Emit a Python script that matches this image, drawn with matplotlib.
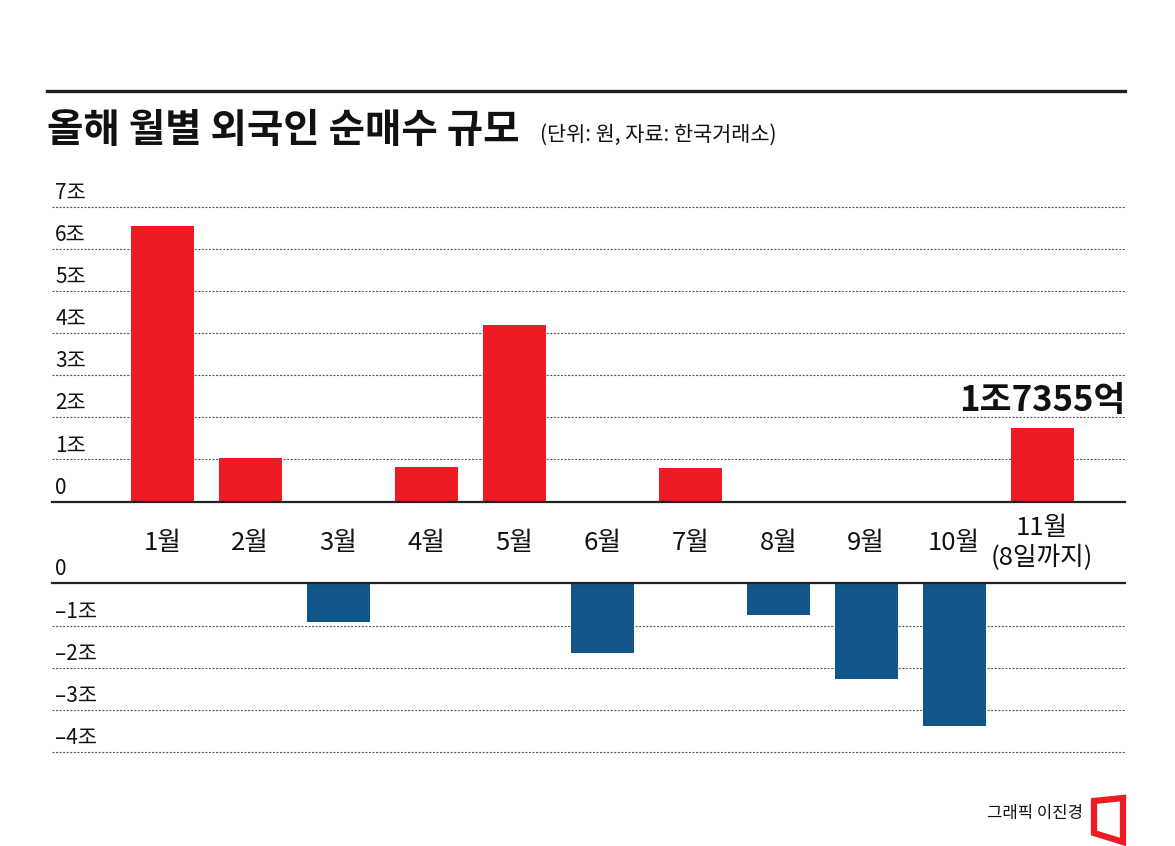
import numpy as np
import matplotlib.pyplot as plt
from matplotlib.patches import Polygon

plt.rcParams['font.family'] = ['Noto Sans CJK KR', 'DejaVu Sans']

# data (단위: 조 원)
months = ['1월', '2월', '3월', '4월', '5월', '6월', '7월', '8월', '9월', '10월', '11월\n(8일까지)']
net_buy = [6.54, 1.04, -0.92, 0.82, 4.19, -1.65, 0.80, -0.75, -2.27, -3.38, 1.7355]
pos_ticks = [0, 1, 2, 3, 4, 5, 6, 7]
pos_tick_labels = ['0', '1조', '2조', '3조', '4조', '5조', '6조', '7조']
neg_ticks = [0, -1, -2, -3, -4]
neg_tick_labels = ['0', '–1조', '–2조', '–3조', '–4조']
highlight_label = '1조7355억'

RED = '#ED1C24'
BLUE = '#10568A'
W, H = 1175, 846


def px_axes(fig, left, top, right, bottom):
    # axes from pixel box (origin top-left)
    return fig.add_axes([left / W, 1 - bottom / H, (right - left) / W, (bottom - top) / H])


def style_axes(ax, ticks, labels):
    ax.set_xlim(-1.253, 10.94)
    for s in ax.spines.values():
        s.set_visible(False)
    ax.set_xticks([])
    ax.set_yticks([])
    for t, lab in zip(ticks, labels):
        if t != 0:
            ax.axhline(t, color='#555555', lw=0.8, ls=(0, (1.8, 1.4)), zorder=0, clip_on=False)
        ax.annotate(lab, xy=(0.003, t), xycoords=('axes fraction', 'data'),
                    xytext=(0, 10), textcoords='offset points',
                    ha='left', va='center', fontsize=15, color='#111111',
                    annotation_clip=False)
    ax.axhline(0, color='#222222', lw=1.6, zorder=3, clip_on=False)


fig = plt.figure(figsize=(W / 100, H / 100), dpi=100)

x = np.arange(len(months))
vals = np.array(net_buy)

# top panel: positive values
ax_top = px_axes(fig, 52, 198.4, 1125, 501.5)
ax_top.set_ylim(0, 7.2)
style_axes(ax_top, pos_ticks, pos_tick_labels)
ax_top.bar(x, np.where(vals > 0, vals, 0), width=0.72, color=RED, zorder=2)
ax_top.annotate(highlight_label, xy=(x[-1], vals[-1]), xytext=(0, 20),
                textcoords='offset points', ha='center', va='center',
                fontsize=25, fontweight='bold', color='#111111')

# month labels between panels
for xi, m in zip(x, months):
    ax_top.annotate(m, xy=(xi, 1 - 543 / H), xycoords=('data', 'figure fraction'),
                    ha='center', va='center', fontsize=18.5, color='#111111',
                    linespacing=1.15, annotation_clip=False)

# bottom panel: negative values
ax_bot = px_axes(fig, 52, 583.3, 1125, 764.8)
ax_bot.set_ylim(-4.3, 0)
style_axes(ax_bot, neg_ticks, neg_tick_labels)
ax_bot.bar(x, np.where(vals < 0, vals, 0), width=0.72, color=BLUE, zorder=2)

# title block
fig.add_artist(plt.Line2D([47 / W, 1125 / W], [1 - 91 / H, 1 - 91 / H],
                          color='#222222', lw=2.4))
fig.text(47 / W, 1 - 130 / H, '올해 월별 외국인 순매수 규모', fontsize=28.5,
         fontweight='heavy', ha='left', va='center', color='#111111')
fig.text(540 / W, 1 - 135 / H, '(단위: 원, 자료: 한국거래소)', fontsize=15,
         ha='left', va='center', color='#111111')

# credit + logo
fig.text(1083 / W, 1 - 813 / H, '그래픽 이진경', fontsize=12,
         ha='right', va='center', color='#111111')
logo = Polygon([[1094 / W, 1 - 801 / H], [1123 / W, 1 - 798 / H],
                [1123 / W, 1 - 842 / H], [1094 / W, 1 - 833 / H]],
               closed=True, fill=False, edgecolor=RED, lw=4.5,
               transform=fig.transFigure)
fig.add_artist(logo)

fig.savefig('out.png', dpi=100)
